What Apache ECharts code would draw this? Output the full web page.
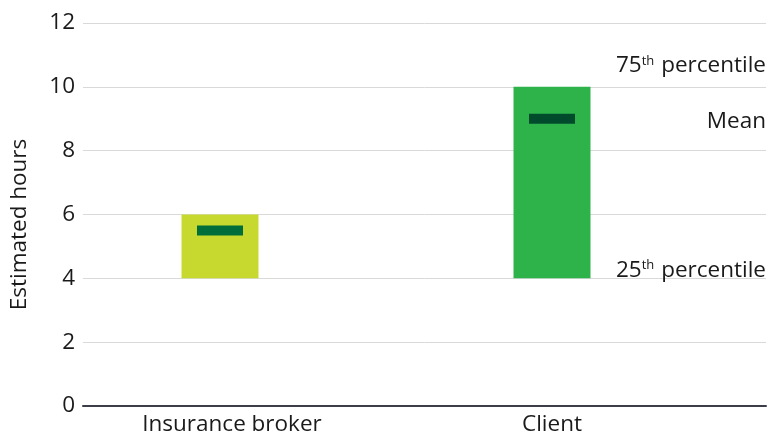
<!DOCTYPE html>
<html>
<head>
<meta charset="utf-8">
<script src="https://cdn.jsdelivr.net/npm/echarts@6/dist/echarts.min.js"></script>
<style>html,body{margin:0;padding:0;background:#fff}#c{width:768px;height:437px}</style>
</head>
<body>
<div id="c"></div>
<script>
const categories = ['Insurance broker', 'Client'];
const p25 = [4, 4];
const p75 = [6, 10];
const means = [5.5, 9];
const yTicks = { min: 0, max: 12, interval: 2 };
const barColors = ['#c7d92e', '#2eb34b'];
const meanColors = ['#006e3a', '#004b2c'];
const annotations = [
  { value: 10, text: '{n|75}{s|th}{n| percentile}', dy: -21 },
  { value: 9, text: '{n|Mean}', dy: 3 },
  { value: 4, text: '{n|25}{s|th}{n| percentile}', dy: -8 }
];

const FONT = 'Open Sans';
const FS = 22.5;
const TXT = '#1a1a1a';
const chart = echarts.init(document.getElementById('c'), null, { renderer: 'canvas' });

const rangeData = p75.map((v, i) => ({ value: v - p25[i], itemStyle: { color: barColors[i] } }));

chart.setOption({
  animation: false,
  textStyle: { fontFamily: FONT },
  grid: [
    { left: 78, right: 2, top: 23, bottom: 31 },
    { left: 54, right: 50, top: 23, bottom: 31 }
  ],
  xAxis: [
    { type: 'value', gridIndex: 0, min: 0, max: 1, axisLine: { show: true, onZero: false, lineStyle: { color: '#3b3e46', width: 2 } },
      axisTick: { show: false }, axisLabel: { show: false }, splitLine: { show: false } },
    { type: 'category', gridIndex: 1, data: categories, axisLine: { show: false }, axisTick: { show: false },
      axisLabel: { color: TXT, fontSize: FS, fontFamily: FONT, margin: 7,
        formatter: (v, i) => i === 0 ? '{a|' + v + '}' : v,
        rich: { a: { color: TXT, fontSize: FS, fontFamily: FONT, padding: [0, 0, 0, 24] } } } }
  ],
  yAxis: [
    { type: 'value', gridIndex: 0, min: yTicks.min, max: yTicks.max, interval: yTicks.interval,
      name: 'Estimated hours', nameLocation: 'middle', nameGap: 52,
      nameTextStyle: { color: TXT, fontSize: FS, fontFamily: FONT, padding: [0, 20, 0, 0] },
      axisLine: { show: false }, axisTick: { show: false },
      axisLabel: { color: TXT, fontSize: FS, fontFamily: FONT, margin: 8 },
      splitLine: { lineStyle: { color: '#d9d9d9', width: 1 } } },
    { type: 'value', gridIndex: 1, min: yTicks.min, max: yTicks.max, interval: yTicks.interval, show: false }
  ],
  series: [
    { type: 'bar', xAxisIndex: 1, yAxisIndex: 1, stack: 'r', data: p25, barWidth: 77,
      itemStyle: { color: 'transparent' }, silent: true },
    { type: 'bar', xAxisIndex: 1, yAxisIndex: 1, stack: 'r', data: rangeData, barWidth: 77 },
    { type: 'scatter', xAxisIndex: 1, yAxisIndex: 1, symbol: 'rect', symbolSize: [46, 10], z: 5,
      itemStyle: { opacity: 1 },
      data: means.map((v, i) => ({ value: [i, v], itemStyle: { color: meanColors[i], opacity: 1 } })) },
    { type: 'scatter', xAxisIndex: 0, yAxisIndex: 0, symbolSize: 0, z: 6,
      itemStyle: { opacity: 1 },
      data: annotations.map(a => ({
        value: [1, a.value],
        label: { show: true, position: 'left', distance: 0, offset: [0, a.dy], formatter: a.text,
          rich: {
            n: { fontSize: FS, color: TXT, fontFamily: FONT },
            s: { fontSize: 13, color: TXT, fontFamily: FONT, padding: [0, 1, 10, 0] }
          } }
      })) }
  ]
});
</script>
</body>
</html>
